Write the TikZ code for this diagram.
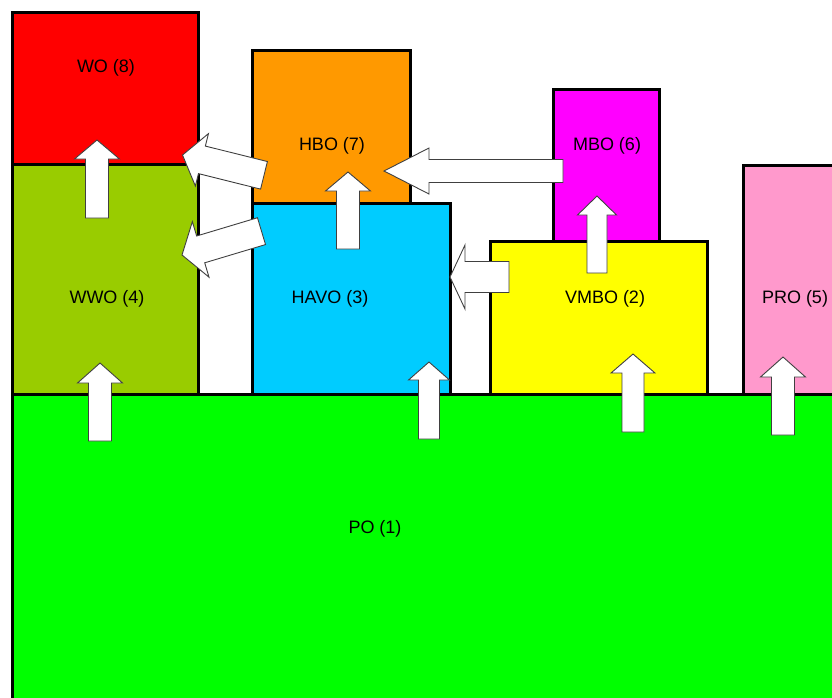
\documentclass[tikz,border=0pt]{standalone}
\usepackage{fontspec}
\setmainfont{Liberation Sans}
\definecolor{cWO}{HTML}{FF0000}
\definecolor{cWWO}{HTML}{99CC00}
\definecolor{cHBO}{HTML}{FF9900}
\definecolor{cHAVO}{HTML}{00CCFF}
\definecolor{cMBO}{HTML}{FF00FF}
\definecolor{cVMBO}{HTML}{FFFF00}
\definecolor{cPRO}{HTML}{FF99CC}
\definecolor{cPO}{HTML}{00FF00}
\tikzset{
  box/.style={draw=black, line width=3pt, rectangle, inner sep=0pt, outer sep=0pt},
  lbl/.style={font=\fontsize{18}{20}\selectfont, text=black, inner sep=0pt},
  arrowstyle/.style={draw=black!75, fill=white, line width=0.9pt, line join=miter},
  pics/barrow/.style n args={4}{code={
    \draw[arrowstyle] (0,0) -- (-#2,#3) -- (-#2,#4) -- (-#1,#4) -- (-#1,-#4) -- (-#2,-#4) -- (-#2,-#3) -- cycle;
  }}
}
\begin{document}
\begin{tikzpicture}[x=1pt, y=-1pt]
\useasboundingbox (0,0) rectangle (832,697);
\clip (0,0) rectangle (832,697);
\fill[white] (0,0) rectangle (832,697);
% boxes
\node[box, fill=cWWO, minimum width=186, minimum height=230] (wwo) at (105,279) {};
\node[box, fill=cWO, minimum width=186, minimum height=152] (wo) at (105,88) {};
\node[box, fill=cHAVO, minimum width=198, minimum height=191] (havo) at (351,298.5) {};
\node[box, fill=cHBO, minimum width=158, minimum height=153] (hbo) at (331,126.5) {};
\node[box, fill=cVMBO, minimum width=217, minimum height=153] (vmbo) at (598.5,317.5) {};
\node[box, fill=cMBO, minimum width=106, minimum height=152] (mbo) at (606,165) {};
\node[box, fill=cPRO, minimum width=157, minimum height=229] (pro) at (821.5,279.5) {};
\node[box, fill=cPO, minimum width=888, minimum height=366] (po) at (456,577) {};
% labels
\node[lbl] (lwo) at (106,68) {WO (8)};
\node[lbl] (lwwo) at (107,299) {WWO (4)};
\node[lbl] (lhbo) at (332,146) {HBO (7)};
\node[lbl] (lhavo) at (330,299) {HAVO (3)};
\node[lbl] (lmbo) at (607,146) {MBO (6)};
\node[lbl] (lvmbo) at (605,299) {VMBO (2)};
\node[lbl] (lpro) at (795,299) {PRO (5)};
\node[lbl] (lpo) at (375,529) {PO (1)};
% up arrows
\pic[rotate=90] at (97,140) {barrow={78}{19}{22.5}{11.5}};
\pic[rotate=90] at (100,363) {barrow={78}{20}{22.5}{11.5}};
\pic[rotate=90] at (429,362) {barrow={77}{18}{20.5}{10.5}};
\pic[rotate=90] at (348,172) {barrow={77}{19}{22.5}{11.5}};
\pic[rotate=90] at (597,196) {barrow={77}{19}{19.5}{10}};
\pic[rotate=90] at (633,354) {barrow={78}{19}{22}{11}};
\pic[rotate=90] at (783,357) {barrow={78}{20}{22.5}{11.5}};
% left arrows
\pic[rotate=180] at (384,171) {barrow={179}{45}{23}{11.5}};
\pic[rotate=180] at (450,277) {barrow={59}{15}{32}{15.5}};
% diagonal arrows
\pic[rotate=166] at (182.5,155) {barrow={84}{20}{27}{14.2}};
\pic[rotate=196.7] at (182,255) {barrow={83}{19.5}{29}{14}};
\end{tikzpicture}
\end{document}
